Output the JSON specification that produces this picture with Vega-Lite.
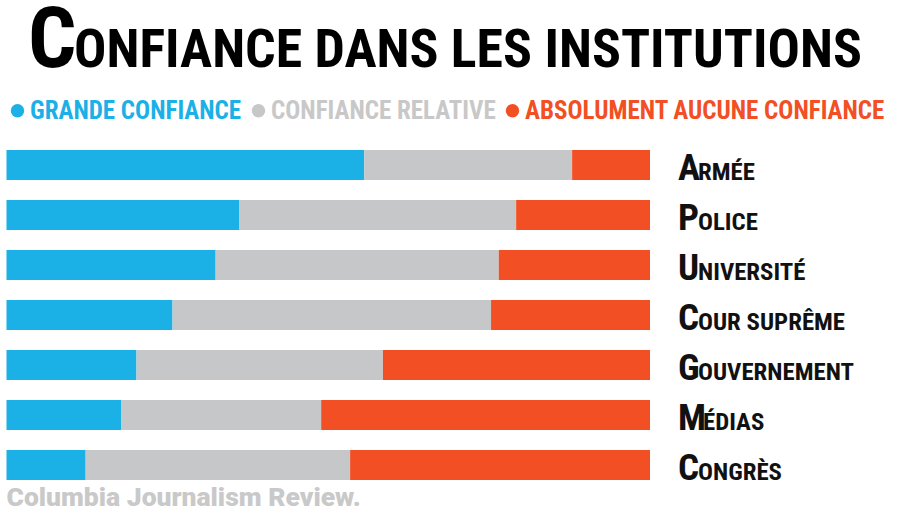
{
  "$schema": "https://vega.github.io/schema/vega-lite/v6.json",
  "autosize": "none",
  "padding": {"left": 6.5, "top": 140, "right": 249, "bottom": 23},
  "width": 643.5,
  "height": 350,
  "background": "#ffffff",
  "config": {"view": {"stroke": null}},
  "title": {
    "text": "Columbia Journalism Review.",
    "orient": "bottom",
    "anchor": "start",
    "frame": "group",
    "font": "Roboto",
    "fontSize": 26.5,
    "fontWeight": 900,
    "color": "#c9c9c9",
    "baseline": "alphabetic",
    "offset": 16,
    "dx": 0
  },
  "datasets": {
    "bars": [
      {"institution": "Armée", "niveau": "Grande confiance", "ordre": 1, "pct": 55.6},
      {"institution": "Armée", "niveau": "Confiance relative", "ordre": 2, "pct": 32.3},
      {"institution": "Armée", "niveau": "Absolument aucune confiance", "ordre": 3, "pct": 12.1},
      {"institution": "Police", "niveau": "Grande confiance", "ordre": 1, "pct": 36.2},
      {"institution": "Police", "niveau": "Confiance relative", "ordre": 2, "pct": 43.0},
      {"institution": "Police", "niveau": "Absolument aucune confiance", "ordre": 3, "pct": 20.8},
      {"institution": "Université", "niveau": "Grande confiance", "ordre": 1, "pct": 32.5},
      {"institution": "Université", "niveau": "Confiance relative", "ordre": 2, "pct": 44.0},
      {"institution": "Université", "niveau": "Absolument aucune confiance", "ordre": 3, "pct": 23.5},
      {"institution": "Cour suprême", "niveau": "Grande confiance", "ordre": 1, "pct": 25.8},
      {"institution": "Cour suprême", "niveau": "Confiance relative", "ordre": 2, "pct": 49.5},
      {"institution": "Cour suprême", "niveau": "Absolument aucune confiance", "ordre": 3, "pct": 24.7},
      {"institution": "Gouvernement", "niveau": "Grande confiance", "ordre": 1, "pct": 20.2},
      {"institution": "Gouvernement", "niveau": "Confiance relative", "ordre": 2, "pct": 38.3},
      {"institution": "Gouvernement", "niveau": "Absolument aucune confiance", "ordre": 3, "pct": 41.5},
      {"institution": "Médias", "niveau": "Grande confiance", "ordre": 1, "pct": 17.8},
      {"institution": "Médias", "niveau": "Confiance relative", "ordre": 2, "pct": 31.1},
      {"institution": "Médias", "niveau": "Absolument aucune confiance", "ordre": 3, "pct": 51.1},
      {"institution": "Congrès", "niveau": "Grande confiance", "ordre": 1, "pct": 12.3},
      {"institution": "Congrès", "niveau": "Confiance relative", "ordre": 2, "pct": 41.1},
      {"institution": "Congrès", "niveau": "Absolument aucune confiance", "ordre": 3, "pct": 46.6}
    ],
    "labels": [
      {"institution": "Armée", "initiale": "A", "suite": "RMÉE"},
      {"institution": "Police", "initiale": "P", "suite": "OLICE"},
      {"institution": "Université", "initiale": "U", "suite": "NIVERSITÉ"},
      {"institution": "Cour suprême", "initiale": "C", "suite": "OUR SUPRÊME"},
      {"institution": "Gouvernement", "initiale": "G", "suite": "OUVERNEMENT"},
      {"institution": "Médias", "initiale": "M", "suite": "ÉDIAS"},
      {"institution": "Congrès", "initiale": "C", "suite": "ONGRÈS"}
    ]
  },
  "encoding": {
    "y": {
      "field": "institution",
      "type": "nominal",
      "sort": ["Armée", "Police", "Université", "Cour suprême", "Gouvernement", "Médias", "Congrès"],
      "scale": {"paddingInner": 0.4, "paddingOuter": 0.2},
      "axis": {
        "orient": "left",
        "labels": false, "ticks": false, "domain": false, "grid": false,
        "title": "C",
        "titleFont": "Roboto Condensed",
        "titleFontSize": 85,
        "titleFontWeight": "bold",
        "titleColor": "#000000",
        "titleAngle": 0,
        "titleAlign": "left",
        "titleBaseline": "alphabetic",
        "titleX": 21,
        "titleY": -74
      }
    }
  },
  "layer": [
    {
      "data": {"name": "bars"},
      "mark": {"type": "bar", "cornerRadius": 0},
      "encoding": {
        "x": {
          "field": "pct",
          "type": "quantitative",
          "stack": "zero",
          "scale": {"domain": [0, 100], "nice": false, "zero": true},
          "axis": {
            "orient": "top",
            "labels": false, "ticks": false, "domain": false, "grid": false,
            "title": "ONFIANCE DANS LES INSTITUTIONS",
            "titleFont": "Roboto Condensed",
            "titleFontSize": 53.8,
            "titleFontWeight": "bold",
            "titleColor": "#000000",
            "titleAngle": 0,
            "titleAlign": "left",
            "titleBaseline": "alphabetic",
            "titleX": 67,
            "titleY": -74
          }
        },
        "order": {"field": "ordre", "type": "quantitative"},
        "color": {
          "field": "niveau",
          "type": "nominal",
          "scale": {
            "domain": ["Grande confiance", "Confiance relative", "Absolument aucune confiance"],
            "range": ["#1bb0e6", "#c6c7c8", "#f24f24"]
          },
          "legend": {
            "orient": "none",
            "legendX": -1.5,
            "legendY": -42,
            "direction": "horizontal",
            "title": null,
            "labelExpr": "upper(datum.label)",
            "labelFont": "Roboto Condensed",
            "labelFontSize": 25,
            "labelFontWeight": "bold",
            "labelLimit": 0,
            "labelOffset": 0,
            "columnPadding": 4,
            "symbolType": "circle",
            "symbolSize": 180,
            "symbolStrokeWidth": 0,
            "encode": {
              "labels": {"update": {"fill": {"signal": "datum.value === 'Grande confiance' ? '#1bb0e6' : datum.value === 'Confiance relative' ? '#c8c8c8' : '#f24f24'"}}},
              "symbols": {"update": {"fill": {"signal": "datum.value === 'Grande confiance' ? '#1bb0e6' : datum.value === 'Confiance relative' ? '#858585' : '#f24f24'"}, "opacity": {"value": 1}}}
            }
          }
        }
      }
    },
    {
      "data": {"name": "labels"},
      "mark": {"type": "text", "align": "left", "baseline": "alphabetic", "dx": 28, "dy": 15, "fontSize": 37, "fontWeight": "bold", "font": "Roboto Condensed", "color": "#111111"},
      "encoding": {
        "x": {"datum": 100, "type": "quantitative"},
        "text": {"field": "initiale"}
      }
    },
    {
      "data": {"name": "labels"},
      "transform": [{"filter": "datum.institution !== 'Médias'"}],
      "mark": {"type": "text", "align": "left", "baseline": "alphabetic", "dx": 48, "dy": 15, "fontSize": 24.8, "fontWeight": "bold", "font": "Roboto Condensed", "color": "#111111"},
      "encoding": {
        "x": {"datum": 100, "type": "quantitative"},
        "text": {"field": "suite"}
      }
    },
    {
      "data": {"name": "labels"},
      "transform": [{"filter": "datum.institution === 'Médias'"}],
      "mark": {"type": "text", "align": "left", "baseline": "alphabetic", "dx": 53, "dy": 15, "fontSize": 24.8, "fontWeight": "bold", "font": "Roboto Condensed", "color": "#111111"},
      "encoding": {
        "x": {"datum": 100, "type": "quantitative"},
        "text": {"field": "suite"}
      }
    }
  ]
}
